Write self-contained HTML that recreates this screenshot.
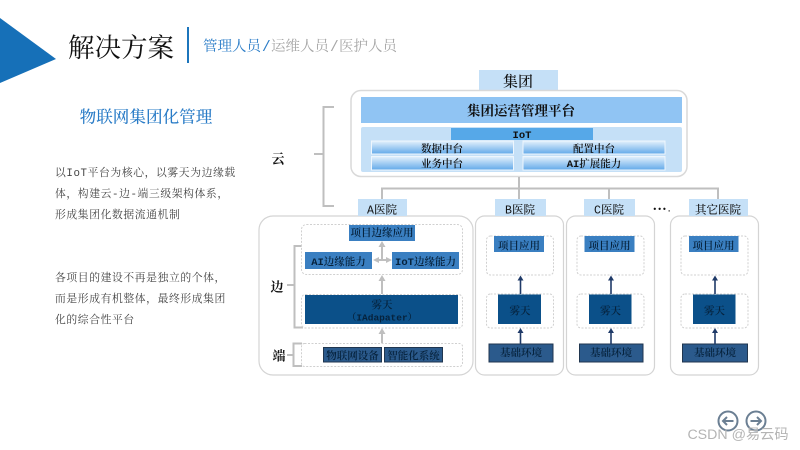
<!DOCTYPE html>
<html><head><meta charset="utf-8"><style>
html,body{margin:0;padding:0;background:#fff;width:800px;height:450px;overflow:hidden}
svg{display:block;filter:blur(.3px)}
text{font-family:"Liberation Mono","Noto Serif CJK SC",serif;text-anchor:middle;dominant-baseline:central;fill:#111;transform:translateY(3px)}
.l{text-anchor:start}
.s{font-size:10.5px;font-weight:600}
.w{fill:#06223c}
.p{font-size:10.8px;fill:#444;text-anchor:start;letter-spacing:.6px}
.g{stroke:#bfbfbf;stroke-width:2;fill:none}
.d{stroke:#d0d0d0;stroke-width:1;stroke-dasharray:2 1.5;fill:#fff}
.c{stroke:#d4d4d4;stroke-width:1.2;fill:#fff}
.n{stroke:#1f3a68;stroke-width:1.6;fill:none}
.t{font-size:14.5px;fill:#a6a6a6;text-anchor:start}
.h{font-size:11.5px;font-weight:500}
</style></head><body>
<svg width="800" height="450" viewBox="0 0 800 450" xmlns="http://www.w3.org/2000/svg">
<defs><linearGradient id="pg" x1="0" y1="0" x2="0" y2="1"><stop offset="0" stop-color="#e4f1fc"/><stop offset="1" stop-color="#62a9e9"/></linearGradient></defs>
<rect width="800" height="450" fill="#fff"/>
<polygon points="0,18 56,59 0,83" fill="#1670b8"/>
<text x="121" y="47" style="font-size:26.5px">解决方案</text>
<rect x="187" y="27" width="2" height="36" fill="#1c75bc"/>
<text class="t" x="203" y="45" style="fill:#2a7cc7">管理人员</text>
<text class="t" x="262" y="45" style="fill:#2a7cc7">/</text>
<text class="t" x="271" y="45">运维人员</text>
<text class="t" x="330" y="45">/</text>
<text class="t" x="339" y="45">医护人员</text>

<text x="146" y="115" style="font-size:16.6px;fill:#2a7cc7;font-weight:500">物联网集团化管理</text>
<text class="p" x="55" y="171">以IoT平台为核心，以雾天为边缘载</text>
<text class="p" x="55" y="192">体，构建云-边-端三级架构体系，</text>
<text class="p" x="55" y="213">形成集团化数据流通机制</text>
<text class="p" x="55" y="276">各项目的建设不再是独立的个体，</text>
<text class="p" x="55" y="297">而是形成有机整体，最终形成集团</text>
<text class="p" x="55" y="318">化的综合性平台</text>

<!-- cloud bracket -->
<path class="g" d="M334 107H323.500V206H334M314 154H323"/>
<text x="278" y="157" style="font-size:13px;font-weight:700">云</text>

<!-- group -->
<rect x="479" y="70" width="79" height="21" fill="#c5e0f7"/>
<text x="518" y="80" style="font-size:15px;font-weight:500">集团</text>
<rect x="351" y="90.500" width="336" height="86" rx="10" fill="#fff" stroke="#d9d9d9" stroke-width="1.500"/>
<rect x="361" y="97" width="321" height="26" fill="#90c4f3"/>
<text x="521" y="110" style="font-size:13.500px;font-weight:700">集团运营管理平台</text>
<rect x="361" y="127" width="321" height="45" rx="2" fill="#c5e0f7"/>
<rect x="451" y="128" width="142" height="12" fill="#56a8e8"/>
<text x="522" y="133" class="s">IoT</text>
<rect x="371.500" y="141" width="142" height="13" fill="url(#pg)" stroke="#eef6fd"/>
<rect x="371.500" y="156.500" width="142" height="13.500" fill="url(#pg)" stroke="#eef6fd"/>
<rect x="523" y="141" width="142" height="13" fill="url(#pg)" stroke="#eef6fd"/>
<rect x="523" y="156.500" width="142" height="13.500" fill="url(#pg)" stroke="#eef6fd"/>
<text x="442" y="147" class="s">数据中台</text>
<text x="442" y="162" class="s">业务中台</text>
<text x="594" y="147" class="s">配置中台</text>
<text x="594" y="162" class="s">AI扩展能力</text>

<!-- connectors -->
<path class="g" d="M519 177V200M382 200V188.500H718V200M609 188V200"/>

<!-- cards -->
<rect class="c" x="259" y="216" width="214" height="159" rx="14"/>
<rect class="c" x="475.500" y="216" width="88" height="159" rx="9"/>
<rect class="c" x="566.500" y="216" width="88" height="159" rx="9"/>
<rect class="c" x="670.500" y="216" width="88" height="159" rx="9"/>

<!-- tabs -->
<rect x="358" y="199" width="49" height="17" fill="#c5e0f7"/>
<rect x="495" y="199" width="51" height="17" fill="#c5e0f7"/>
<rect x="584" y="199" width="51" height="17" fill="#c5e0f7"/>
<rect x="689" y="199" width="59" height="17" fill="#c5e0f7"/>
<text x="382" y="208" class="h">A医院</text>
<text x="520" y="208" class="h">B医院</text>
<text x="609" y="208" class="h">C医院</text>
<text x="718" y="208" class="h">其它医院</text>
<text x="662" y="207" style="font-size:8px;font-weight:700">•••.</text>

<!-- A card -->
<path class="g" d="M303 246H294.500V327.500H303M287 285H294"/>
<path class="g" d="M302 343.500H293.500V366H302M287 355H293"/>
<text x="277" y="285" style="font-size:13px;font-weight:700">边</text>
<text x="279" y="354" style="font-size:13px;font-weight:700">端</text>
<rect class="d" x="301.500" y="224.500" width="161" height="50" rx="5"/>
<rect class="d" x="301.500" y="294.500" width="161" height="33.500" rx="4"/>
<rect class="d" x="301.500" y="343.500" width="161" height="23" rx="3"/>
<rect x="349" y="225" width="66" height="16" fill="#3a7fc1"/>
<text x="382" y="231" class="s w">项目边缘应用</text>
<rect x="305" y="252" width="67" height="17" fill="#3a7fc1"/>
<text x="338.500" y="260" class="s w">AI边缘能力</text>
<rect x="392" y="252" width="67" height="17" fill="#3a7fc1"/>
<text x="425.500" y="260" class="s w">IoT边缘能力</text>
<rect x="305" y="295" width="153" height="29" fill="#0b5089"/>
<text x="382" y="303" class="s w">雾天</text>
<text x="382" y="315" class="s w" style="font-size:9.500px">（IAdapater）</text>
<rect x="323.500" y="347.500" width="58" height="14.500" fill="#2b5a8c" stroke="#20364f"/>
<rect x="384.500" y="347.500" width="58" height="14.500" fill="#2b5a8c" stroke="#20364f"/>
<text x="352.500" y="354" class="s w">物联网设备</text>
<text x="413.500" y="354" class="s w">智能化系统</text>
<g fill="#bfbfbf">
<rect x="381" y="246" width="2" height="14"/><polygon points="382,241 378.500,247 385.500,247"/>
<rect x="378" y="259" width="9" height="2"/><polygon points="373,260 379,257 379,263"/><polygon points="392,260 386,257 386,263"/>
<rect x="381" y="280" width="2" height="14"/><polygon points="382,275 378.500,281 385.500,281"/>
<rect x="381" y="333" width="2" height="10"/><polygon points="382,328 378.500,334 385.500,334"/>
</g>

<!-- B -->
<g>
<rect class="d" x="486.500" y="236" width="67" height="39" rx="4"/>
<rect class="d" x="486.500" y="294" width="67" height="34" rx="4"/>
<rect x="494" y="236" width="50" height="16" fill="#3a7fc1"/>
<text x="519" y="244" class="s w">项目应用</text>
<rect x="498" y="294.500" width="43" height="29.500" fill="#0b5089"/>
<text x="520" y="309" class="s w">雾天</text>
<rect x="489" y="344" width="64" height="18" fill="#2b5a8c" stroke="#20364f"/>
<text x="521" y="351" class="s w">基础环境</text>
<path class="n" d="M520.500 294V279M520.500 344V332"/>
<path d="M520.500 275.500l-3 5h6zM520.500 328l-3 5h6z" fill="#1f3a68"/>
</g>
<!-- C -->
<g>
<rect class="d" x="577" y="236" width="67" height="39" rx="4"/>
<rect class="d" x="577" y="294" width="67" height="34" rx="4"/>
<rect x="584.500" y="236" width="50" height="16" fill="#3a7fc1"/>
<text x="609.500" y="244" class="s w">项目应用</text>
<rect x="589" y="294.500" width="42.500" height="29.500" fill="#0b5089"/>
<text x="610.500" y="309" class="s w">雾天</text>
<rect x="579.500" y="344" width="63.500" height="18" fill="#2b5a8c" stroke="#20364f"/>
<text x="611" y="351" class="s w">基础环境</text>
<path class="n" d="M611 294V279M611 344V332"/>
<path d="M611 275.500l-3 5h6zM611 328l-3 5h6z" fill="#1f3a68"/>
</g>
<!-- Other -->
<g>
<rect class="d" x="681" y="236" width="67" height="39" rx="4"/>
<rect class="d" x="681" y="294" width="67" height="34" rx="4"/>
<rect x="689" y="236" width="49.500" height="16" fill="#3a7fc1"/>
<text x="713.500" y="244" class="s w">项目应用</text>
<rect x="693" y="294.500" width="42.500" height="29.500" fill="#0b5089"/>
<text x="714.500" y="309" class="s w">雾天</text>
<rect x="682.500" y="344" width="65" height="18" fill="#2b5a8c" stroke="#20364f"/>
<text x="715" y="351" class="s w">基础环境</text>
<path class="n" d="M715 294V279M715 344V332"/>
<path d="M715 275.500l-3 5h6zM715 328l-3 5h6z" fill="#1f3a68"/>
</g>

<!-- nav -->
<g fill="none" stroke="#6b7f93" stroke-width="2">
<circle cx="728" cy="421" r="9.500"/><circle cx="756" cy="421" r="9.500"/>
<path d="M733.500 421H723M727 417l-4 4 4 4M750.500 421H761M757 417l4 4-4 4"/>
</g>
<text x="738" y="432" style='font-family:"Liberation Sans","Noto Sans CJK SC",sans-serif;font-size:14.200px;fill:#b4b4b4'>CSDN @易云码</text>
</svg>
</body></html>
